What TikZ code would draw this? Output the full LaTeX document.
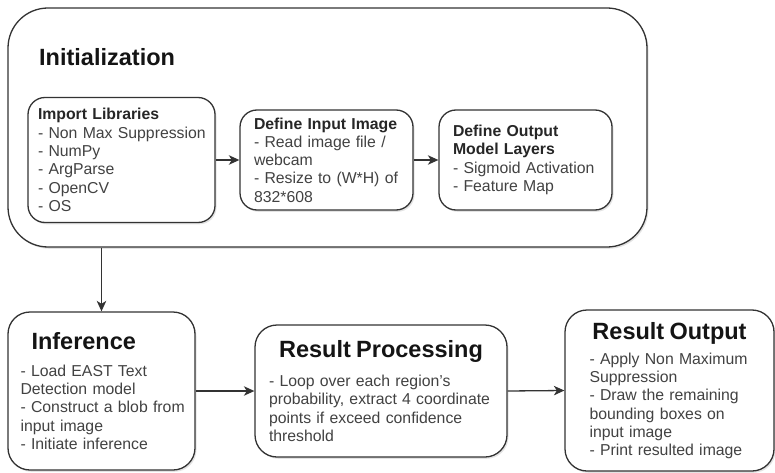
\documentclass[tikz,border=0pt]{standalone}
\usepackage{fontspec}
\setmainfont{Liberation Sans}
\usetikzlibrary{arrows.meta,shadows}
\definecolor{edgegray}{RGB}{51,51,51}
\definecolor{bodygray}{RGB}{66,66,66}
\newcommand{\bodysize}{\fontsize{15.8}{18.3}\selectfont}
\newcommand{\headsize}{\fontsize{23.5}{28}\selectfont\bfseries}
\newcommand{\nowrap}{\hyphenpenalty=10000\rightskip=-30pt plus 1fil\relax}
\newcommand{\boxhead}[1]{\textbf{\color{black!85}#1}}
\newcommand{\stagehead}[1]{\makebox[\linewidth][c]{\headsize\color{black!92}#1}}
\tikzset{
    stage/.style={draw=edgegray, line width=1.3pt, fill=white, align=left,
        text=bodygray, font=\bodysize, inner ysep=0pt,
        drop shadow={shadow xshift=1.5pt, shadow yshift=-1.8pt, opacity=0.22}},
    flow/.style={->, draw=edgegray, line width=1.3pt},
}
\begin{document}
\begin{tikzpicture}[x=1pt, y=-1pt, >={Stealth[length=10.5pt,width=9.5pt,inset=3pt]}]
    \useasboundingbox (0,0) rectangle (775,473);
    \node[stage, rounded corners=40pt, minimum width=639pt, minimum height=239pt] (init) at (327.5,127.5) {};
    \node[anchor=base west, font=\headsize, text=black!92, inner sep=0pt] (inittitle) at (39,66) {Initialization};
    \node[stage, rounded corners=17pt, minimum width=187pt, minimum height=125pt,
        text width=167pt, inner xsep=10pt] (libs) at (121.5,160) {\nowrap\boxhead{Import Libraries}\\
        - Non Max Suppression\\- NumPy\\- ArgParse\\- OpenCV\\- OS};
    \node[stage, rounded corners=17pt, minimum width=173pt, minimum height=100pt,
        text width=145pt, inner xsep=14pt] (defin) at (326.5,160) {\nowrap\boxhead{Define Input Image}\\
        - Read image file /\\webcam\\- Resize to (W*H) of\\832*608};
    \node[stage, rounded corners=17pt, minimum width=173pt, minimum height=100pt,
        text width=145pt, inner xsep=14pt] (defout) at (525.5,160) {\nowrap\boxhead{Define Output}\\
        \boxhead{Model Layers}\\- Sigmoid Activation\\- Feature Map};
    \node[stage, rounded corners=22pt, minimum width=187pt, minimum height=158pt,
        text width=162pt, inner xsep=12.5pt] (infer) at (101.5,391) {\nowrap{\headsize\color{black!92}\hspace*{11pt}Inference}\\[8.7pt]
        - Load EAST Text\\Detection model\\- Construct a blob from\\input image\\- Initiate inference};
    \node[stage, rounded corners=22pt, minimum width=252pt, minimum height=132pt,
        text width=224pt, inner xsep=14pt] (proc) at (381,391) {\nowrap\stagehead{Result Processing}\\[10.7pt]
        - Loop over each region's\\probability, extract 4 coordinate\\points if exceed confidence\\threshold};
    \node[stage, rounded corners=22pt, minimum width=209pt, minimum height=161pt,
        text width=160pt, inner xsep=24.5pt] (out) at (669.5,390.5) {\nowrap\stagehead{Result Output}\\[6.7pt]
        - Apply Non Maximum\\Suppression\\- Draw the remaining\\bounding boxes on\\input image\\- Print resulted image};
    \draw[flow] (libs.east) -- (defin.west);
    \draw[flow] (defin.east) -- (defout.west);
    \draw[flow] (init.south -| infer.north) -- (infer.north);
    \draw[flow] (infer.east) -- (proc.west);
    \draw[flow] (proc.east) -- (out.west);
\end{tikzpicture}
\end{document}
